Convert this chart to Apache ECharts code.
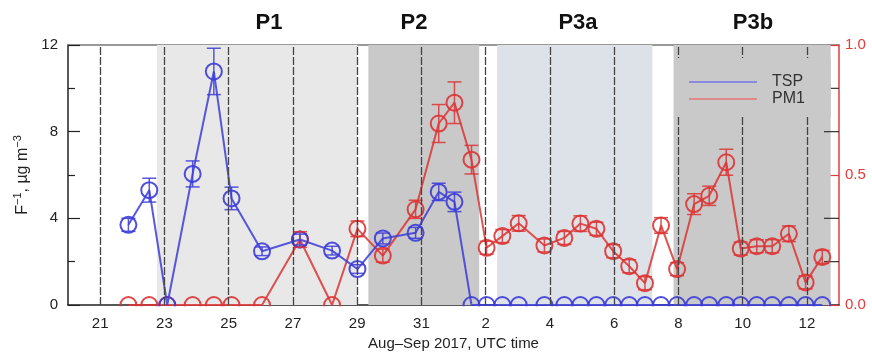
<!DOCTYPE html>
<html>
<head>
<meta charset="utf-8">
<script src="https://cdn.jsdelivr.net/npm/echarts@6/dist/echarts.min.js"></script>
<style>html,body{margin:0;padding:0;background:#fff}#c{width:872px;height:356px}</style>
</head>
<body>
<div id="c"></div>
<script>
// x values: days since 20 Aug 2017 00:00 UTC
const sampleDays = [1.88, 2.53, 3.09, 3.88, 4.54, 5.09, 6.04, 7.22, 8.22, 9.01, 9.80, 10.82, 11.54, 12.03, 12.56,
  13.03, 13.52, 14.03, 14.83, 15.45, 15.95, 16.45, 16.97, 17.47, 17.96, 18.46, 18.96, 19.49, 19.96, 20.49,
  20.94, 21.44, 21.92, 22.44, 22.96, 23.48];
const tspValues = [3.7, 5.3, 0, 6.05, 10.78, 4.92, 2.48, 3.02, 2.51, 1.66, 3.07, 3.33, 5.22, 4.76, 0,
  0, 0, 0, 0, 0, 0, 0, 0, 0, 0, 0, 0, 0, 0, 0, 0, 0, 0, 0, 0, 0];
const tspErrors = [0.3, 0.55, 0, 0.6, 1.07, 0.52, 0.2, 0.25, 0.2, 0.2, 0.25, 0.25, 0.4, 0.45, 0,
  0, 0, 0, 0, 0, 0, 0, 0, 0, 0, 0, 0, 0, 0, 0, 0, 0, 0, 0, 0, 0];
const pm1Values = [0, 0, 0, 0, 0, 0, 0, 0.252, 0, 0.293, 0.19, 0.368, 0.698, 0.778, 0.559,
  0.22, 0.265, 0.314, 0.229, 0.258, 0.313, 0.293, 0.207, 0.149, 0.084, 0.306, 0.138, 0.388, 0.42, 0.549,
  0.217, 0.226, 0.226, 0.274, 0.087, 0.185];
const pm1Errors = [0, 0, 0, 0, 0, 0, 0, 0.03, 0, 0.03, 0.025, 0.035, 0.073, 0.08, 0.055,
  0.025, 0.025, 0.03, 0.025, 0.025, 0.03, 0.025, 0.025, 0.025, 0.025, 0.03, 0.025, 0.04, 0.037, 0.05,
  0.025, 0.025, 0.025, 0.03, 0.025, 0.025];
const xTickDays = [1, 3, 5, 7, 9, 11, 13, 15, 17, 19, 21, 23];
const periodNames = ['P1', 'P2', 'P3a', 'P3b'];
const periodStart = [2.77, 9.35, 13.36, 18.85];
const periodEnd = [9.0, 12.8, 18.19, 23.74];
const leftTickLabels = [0, 4, 8, 12];
const leftMirrorTicks = [2, 4, 8, 10];
const rightTickLabels = [0, 0.5, 1.0];

const periodColors = ['#e8e8e8', '#c9c9c9', '#dde1e8', '#c9c9c9'];
const periodLabelX = [269, 414, 578, 753];
const FONT = '"Liberation Sans", Arial, sans-serif';
const TSP_COLOR = '#3c3cd8';
const PM1_COLOR = '#dc3434';
const RED_AXIS = '#e03c3c';

function dayLabel(d) {
  const v = Math.round(d) + 20;
  return String(v <= 31 ? v : v - 31);
}

function errorSeries(values, errors, yIdx, color) {
  return {
    type: 'custom', yAxisIndex: yIdx, z: 4, silent: true,
    data: sampleDays.map((d, i) => [d, values[i] - errors[i], values[i] + errors[i]]),
    renderItem(params, api) {
      const lo = api.coord([api.value(0), api.value(1)]);
      const hi = api.coord([api.value(0), api.value(2)]);
      if (lo[1] - hi[1] < 1) return null;
      const w = 7;
      const st = { stroke: color, lineWidth: 1.5, opacity: 0.85 };
      return { type: 'group', children: [
        { type: 'line', shape: { x1: lo[0], y1: lo[1], x2: hi[0], y2: hi[1] }, style: st },
        { type: 'line', shape: { x1: lo[0] - w, y1: lo[1], x2: lo[0] + w, y2: lo[1] }, style: st },
        { type: 'line', shape: { x1: hi[0] - w, y1: hi[1], x2: hi[0] + w, y2: hi[1] }, style: st }
      ] };
    }
  };
}

const chart = echarts.init(document.getElementById('c'), null, { renderer: 'canvas' });
chart.setOption({
  animation: false,
  backgroundColor: '#fff',
  textStyle: { fontFamily: FONT },
  grid: { left: 68, right: 33, top: 45, bottom: 51, containLabel: false },
  legend: {
    orient: 'vertical', left: 675, top: 58, z: 10,
    padding: [16, 26, 10, 14],
    backgroundColor: '#c9c9c9',
    itemWidth: 68, itemHeight: 2, itemGap: 1,
    icon: 'rect',
    textStyle: { fontSize: 16, color: '#333', fontFamily: FONT, padding: [0, 0, 0, 10] },
    data: [
      { name: 'TSP', itemStyle: { color: '#8282e2', borderWidth: 0 } },
      { name: 'PM1', itemStyle: { color: '#e28282', borderWidth: 0 } }
    ]
  },
  graphic: [
    ...periodNames.map((n, i) => ({
      type: 'text', x: periodLabelX[i], y: 23,
      style: { text: n, align: 'center', verticalAlign: 'middle', font: 'bold 22px ' + FONT, fill: '#111' }
    })),
    { type: 'rect', z: 100, shape: { x: 62, y: 306.2, width: 772, height: 10 }, style: { fill: '#fff' } }
  ],
  xAxis: [{
    type: 'value', min: 0, max: 24, position: 'bottom',
    name: 'Aug\u2013Sep 2017, UTC time', nameLocation: 'middle', nameGap: 30,
    nameTextStyle: { fontSize: 15, color: '#222', fontFamily: FONT },
    axisLine: { onZero: false, lineStyle: { color: '#222', width: 1.5 } },
    axisTick: { show: true, inside: true, length: 6, customValues: xTickDays, lineStyle: { color: '#222' } },
    axisLabel: { customValues: xTickDays, formatter: dayLabel, fontSize: 15, color: '#222', margin: 11, fontFamily: FONT },
    splitLine: { show: false }
  }, {
    type: 'value', min: 0, max: 24, position: 'top',
    axisLine: { show: true, onZero: false, lineStyle: { color: '#777', width: 1.5 } },
    axisTick: { show: false }, axisLabel: { show: false }, splitLine: { show: false }
  }],
  yAxis: [{
    type: 'value', min: 0, max: 12, interval: 4, position: 'left',
    name: 'F{s|\u22121}, \u00B5g m{s|\u22123}', nameLocation: 'middle', nameGap: 34, nameRotate: 90,
    nameTextStyle: {
      fontSize: 16, color: '#222', fontFamily: FONT,
      rich: {
        s: { fontSize: 11, color: '#222', fontFamily: FONT, verticalAlign: 'top', lineHeight: 20 }
      }
    },
    axisLine: { show: true, onZero: false, lineStyle: { color: '#222', width: 1.5 } },
    axisTick: { show: true, inside: true, length: 12, lineStyle: { color: '#222', width: 1.2 } },
    minorTick: { show: true, splitNumber: 2, length: 7, lineStyle: { color: '#222', width: 1.2 } },
    axisLabel: { customValues: leftTickLabels, fontSize: 15, color: '#222', margin: 10, fontFamily: FONT },
    splitLine: { show: false }
  }, {
    type: 'value', min: 0, max: 1, interval: 0.5, position: 'right',
    axisLine: { show: true, onZero: false, lineStyle: { color: RED_AXIS, width: 1.5 } },
    axisTick: { show: true, inside: true, length: 11, customValues: rightTickLabels, lineStyle: { color: RED_AXIS, width: 1.2 } },
    axisLabel: { customValues: rightTickLabels, formatter: v => v.toFixed(1), fontSize: 15, color: RED_AXIS, margin: 6, fontFamily: FONT },
    splitLine: { show: false }
  }],
  series: [
    {
      name: 'bg', type: 'line', data: [], silent: true, z: 1,
      markArea: {
        silent: true,
        data: periodNames.map((n, i) => [
          { xAxis: periodStart[i], yAxis: 0, itemStyle: { color: periodColors[i] } },
          { xAxis: periodEnd[i], yAxis: 12 }
        ])
      },
      markLine: {
        silent: true, symbol: ['none', 'none'], label: { show: false },
        lineStyle: { color: '#444', width: 1.3, type: [8, 2] },
        data: xTickDays.map(d => ({ xAxis: d }))
      }
    },
    {
      type: 'custom', yAxisIndex: 0, z: 2, silent: true,
      data: leftMirrorTicks.map(v => [24, v]),
      renderItem(params, api) {
        const p = api.coord([api.value(0), api.value(1)]);
        return { type: 'line', shape: { x1: p[0] - 15, y1: p[1], x2: p[0], y2: p[1] }, style: { stroke: '#333', lineWidth: 1.2 } };
      }
    },
    errorSeries(pm1Values, pm1Errors, 1, PM1_COLOR),
    {
      name: 'PM1', type: 'line', yAxisIndex: 1, z: 3,
      data: sampleDays.map((d, i) => [d, pm1Values[i]]),
      symbol: 'circle', symbolSize: 16,
      lineStyle: { color: PM1_COLOR, width: 2, opacity: 0.85 },
      itemStyle: { color: 'rgba(0,0,0,0)', borderColor: PM1_COLOR, borderWidth: 2, opacity: 0.9 }
    },
    errorSeries(tspValues, tspErrors, 0, TSP_COLOR),
    {
      name: 'TSP', type: 'line', yAxisIndex: 0, z: 3,
      data: sampleDays.map((d, i) => [d, tspValues[i]]),
      symbol: 'circle', symbolSize: 16,
      lineStyle: { color: TSP_COLOR, width: 2, opacity: 0.85 },
      itemStyle: { color: 'rgba(0,0,0,0)', borderColor: TSP_COLOR, borderWidth: 2, opacity: 0.9 }
    }
  ]
});
</script>
</body>
</html>
